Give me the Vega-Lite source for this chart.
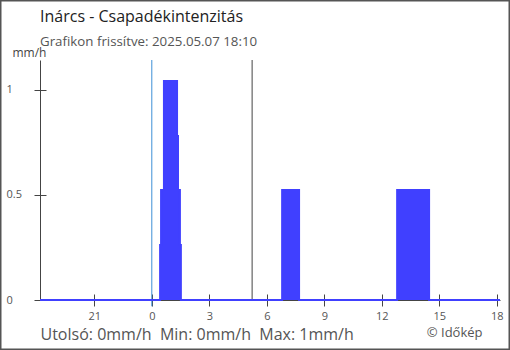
{
  "$schema": "https://vega.github.io/schema/vega-lite/v6.json",
  "width": 510,
  "height": 350,
  "autosize": "none",
  "padding": 0,
  "background": "white",
  "title": {
    "text": "Inárcs - Csapadékintenzitás",
    "subtitle": "Grafikon frissítve: 2025.05.07 18:10",
    "anchor": "start",
    "frame": "group",
    "dx": 40,
    "offset": -48.5,
    "fontSize": 16,
    "fontWeight": "normal",
    "color": "#222",
    "subtitleFontSize": 13.3,
    "subtitleColor": "#555",
    "subtitlePadding": 10
  },
  "config": {
    "font": "Open Sans",
    "view": {"stroke": "#555", "strokeWidth": 3}
  },
  "resolve": {"axis": {"x": "independent", "y": "independent"}},
  "layer": [
    {
      "data": {"values": [{"time": "2025-05-07T00:00:00", "event": "éjfél"}]},
      "mark": {"type": "rule", "color": "#3d8fd6", "strokeWidth": 1},
      "encoding": {
        "x": {
          "field": "time",
          "type": "temporal",
          "axis": {
            "orient": "bottom",
            "offset": -56,
            "tickSize": 6,
            "tickColor": "#444",
            "domain": false,
            "labels": false,
            "grid": false,
            "values": [
              {"year": 2025, "month": 5, "date": 6, "hours": 21},
              {"year": 2025, "month": 5, "date": 7, "hours": 0},
              {"year": 2025, "month": 5, "date": 7, "hours": 3},
              {"year": 2025, "month": 5, "date": 7, "hours": 6},
              {"year": 2025, "month": 5, "date": 7, "hours": 9},
              {"year": 2025, "month": 5, "date": 7, "hours": 12},
              {"year": 2025, "month": 5, "date": 7, "hours": 15},
              {"year": 2025, "month": 5, "date": 7, "hours": 18}
            ],
            "title": "© Időkép",
            "titleX": 482,
            "titleY": 42,
            "titleAlign": "right",
            "titleBaseline": "alphabetic",
            "titleFontSize": 13,
            "titleFontWeight": "normal",
            "titleColor": "#555"
          }
        },
        "y": {
          "datum": 1.142857,
          "type": "quantitative",
          "axis": {
            "orient": "left",
            "offset": -46,
            "values": [0, 0.5, 1],
            "tickSize": 6,
            "tickColor": "#444",
            "domain": false,
            "labels": false,
            "grid": false,
            "title": null
          }
        },
        "y2": {"datum": -0.03}
      }
    },
    {
      "data": {"values": [{"time": "2025-05-07T05:14:00", "event": "napkelte"}]},
      "mark": {"type": "rule", "color": "#444", "strokeWidth": 1},
      "encoding": {
        "x": {"field": "time", "type": "temporal", "axis": null},
        "y": {"datum": 1.142857, "type": "quantitative", "axis": null},
        "y2": {"datum": 0}
      }
    },
    {
      "data": {
        "values": [
          {"time": "2025-05-06T18:10:00", "value": 0},
          {"time": "2025-05-07T00:26:00", "value": 0.262},
          {"time": "2025-05-07T00:29:00", "value": 0.524},
          {"time": "2025-05-07T00:38:00", "value": 1.043},
          {"time": "2025-05-07T01:19:00", "value": 0.781},
          {"time": "2025-05-07T01:22:00", "value": 0.524},
          {"time": "2025-05-07T01:28:00", "value": 0.262},
          {"time": "2025-05-07T01:31:00", "value": 0},
          {"time": "2025-05-07T06:48:00", "value": 0.524},
          {"time": "2025-05-07T07:41:00", "value": 0},
          {"time": "2025-05-07T12:48:00", "value": 0.524},
          {"time": "2025-05-07T14:28:00", "value": 0},
          {"time": "2025-05-07T18:10:00", "value": 0}
        ]
      },
      "mark": {
        "type": "area",
        "interpolate": "step-after",
        "color": "#4040ff",
        "opacity": 1,
        "line": {"color": "#4040ff", "strokeWidth": 2}
      },
      "encoding": {
        "x": {
          "field": "time",
          "type": "temporal",
          "scale": {
            "domain": [
              {"year": 2025, "month": 5, "date": 6, "hours": 18, "minutes": 10},
              {"year": 2025, "month": 5, "date": 7, "hours": 18, "minutes": 10}
            ],
            "range": [40, 500],
            "nice": false
          },
          "axis": {
            "orient": "bottom",
            "offset": -50,
            "tickSize": 6,
            "tickColor": "#444",
            "domainColor": "#444",
            "labelFontSize": 11,
            "labelColor": "#555",
            "labelPadding": 4,
            "labelFlush": false,
            "labelOverlap": false,
            "format": "%-H",
            "values": [
              {"year": 2025, "month": 5, "date": 6, "hours": 21},
              {"year": 2025, "month": 5, "date": 7, "hours": 0},
              {"year": 2025, "month": 5, "date": 7, "hours": 3},
              {"year": 2025, "month": 5, "date": 7, "hours": 6},
              {"year": 2025, "month": 5, "date": 7, "hours": 9},
              {"year": 2025, "month": 5, "date": 7, "hours": 12},
              {"year": 2025, "month": 5, "date": 7, "hours": 15},
              {"year": 2025, "month": 5, "date": 7, "hours": 18}
            ],
            "grid": false,
            "title": "Utolsó: 0mm/h\u00a0 Min: 0mm/h\u00a0 Max: 1mm/h",
            "titleX": 40,
            "titleY": 39,
            "titleAlign": "left",
            "titleBaseline": "alphabetic",
            "titleFontSize": 16,
            "titleFontWeight": "normal",
            "titleColor": "#555"
          }
        },
        "y": {
          "field": "value",
          "type": "quantitative",
          "scale": {"domain": [0, 1.142857], "range": [300, 60], "nice": false, "zero": false},
          "axis": {
            "orient": "left",
            "offset": -40,
            "values": [0, 0.5, 1],
            "format": "~g",
            "tickSize": 6,
            "tickColor": "#444",
            "domainColor": "#444",
            "labelAlign": "left",
            "labelPadding": 28,
            "labelFontSize": 11,
            "labelColor": "#555",
            "grid": false,
            "title": "mm/h",
            "titleAngle": 0,
            "titleX": -28,
            "titleY": 56,
            "titleAlign": "left",
            "titleBaseline": "alphabetic",
            "titleFontSize": 12,
            "titleFontWeight": "normal",
            "titleColor": "#444"
          }
        }
      }
    }
  ]
}
